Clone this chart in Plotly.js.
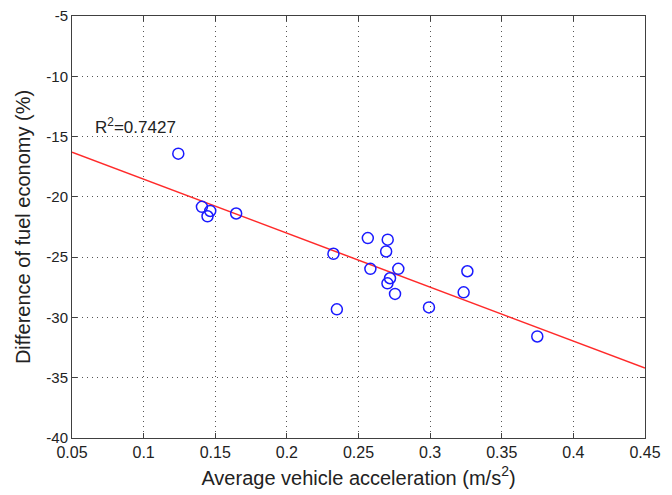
<!DOCTYPE html>
<html><head><meta charset="utf-8">
<script src="https://cdn.plot.ly/plotly-3.0.1.min.js"></script>
<style>html,body{margin:0;padding:0;background:#fff}#chart{width:672px;height:495px}</style>
</head><body><div id="chart"></div>
<script>
const accel = [0.1242,0.1407,0.1465,0.1446,0.1646,0.2325,0.2349,0.2565,0.2583,0.2693,0.2704,0.2702,0.2720,0.2755,0.2778,0.2992,0.3234,0.3260,0.3748];
const fuelDiff = [-16.42,-20.83,-21.17,-21.61,-21.38,-24.72,-29.33,-23.42,-25.97,-24.53,-23.55,-27.17,-26.75,-28.05,-25.97,-29.17,-27.92,-26.17,-31.58];
const fitX = [0.05,0.45];
const fitY = [-16.3,-34.2];
const xTickVals = [0.05,0.1,0.15,0.2,0.25,0.3,0.35,0.4,0.45];
const xTickLabels = ['0.05','0.1','0.15','0.2','0.25','0.3','0.35','0.4','0.45'];
const yTickVals = [-5,-10,-15,-20,-25,-30,-35,-40];
const yTickLabels = ['-5','-10','-15','-20','-25','-30','-35','-40'];
const r2Label = 'R<sup>2</sup>=0.7427';

const font = 'Liberation Sans, Arial, sans-serif';
const axisCommon = {
  showline: true, linecolor: '#404040', linewidth: 1, mirror: 'ticks',
  ticks: 'inside', ticklen: 5, tickcolor: '#404040',
  showgrid: true, gridcolor: '#555', griddash: '1px,4px', gridwidth: 1,
  zeroline: false, tickmode: 'array'
};
const data = [
  {x: fitX, y: fitY, mode: 'lines', line: {color: '#ff2a2a', width: 1.5}, hoverinfo: 'skip'},
  {x: accel, y: fuelDiff, mode: 'markers',
   marker: {symbol: 'circle-open', size: 11, color: '#1a1aff', line: {width: 1.5, color: '#1a1aff'}}}
];
const layout = {
  width: 672, height: 495, showlegend: false,
  paper_bgcolor: '#fff', plot_bgcolor: '#fff',
  margin: {l: 72, r: 27, t: 16, b: 57},
  xaxis: Object.assign({}, axisCommon, {range: [0.05,0.45], tickvals: xTickVals, ticktext: xTickLabels,
    tickfont: {family: font, size: 16, color: '#222'},
    title: {text: 'Average vehicle acceleration (m/s<sup>2</sup>)', font: {family: font, size: 20, color: '#222'}, standoff: 10}}),
  yaxis: Object.assign({}, axisCommon, {range: [-40,-5], tickvals: yTickVals, ticktext: yTickLabels,
    tickfont: {family: font, size: 15, color: '#222'},
    title: {text: 'Difference of fuel economy (%)', font: {family: font, size: 20, color: '#222'}, standoff: 10}}),
  annotations: [{x: 0.0645, y: -15, xref: 'x', yref: 'y', text: r2Label, showarrow: false,
    xanchor: 'left', yanchor: 'bottom', yshift: -2, font: {family: font, size: 17, color: '#222'}}]
};
Plotly.newPlot('chart', data, layout, {staticPlot: true});
</script></body></html>
